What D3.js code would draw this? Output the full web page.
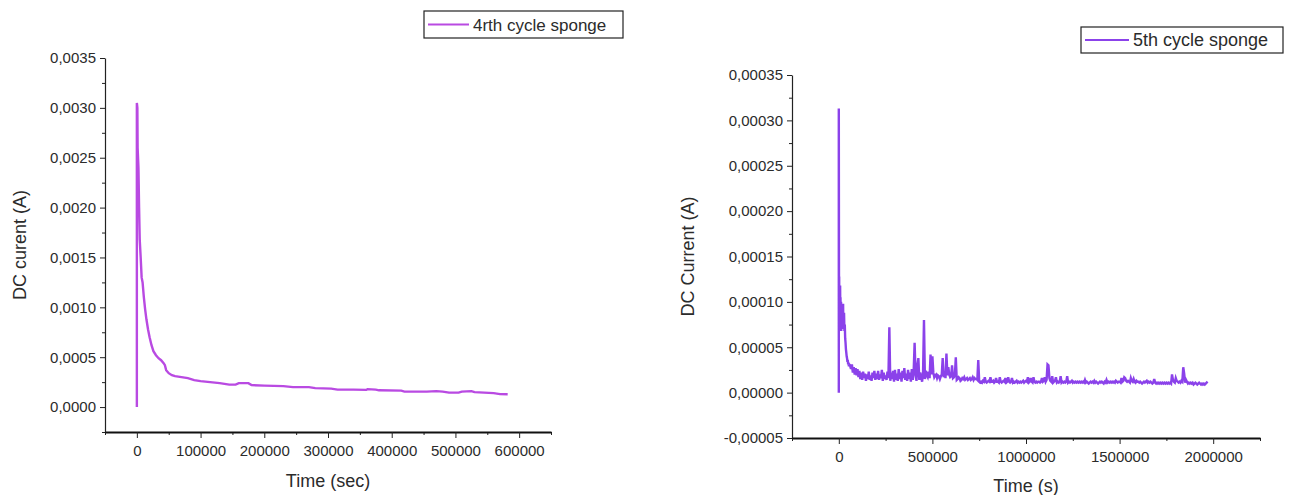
<!DOCTYPE html>
<html>
<head>
<meta charset="utf-8">
<script src="https://cdn.jsdelivr.net/npm/d3@7"></script>
<style>
  body { margin: 0; background: #fff; }
  svg { display: block; }
  text { font-family: "Liberation Sans", Arial, sans-serif; fill: #2b2b2b; }
</style>
</head>
<body>
<svg id="chart" width="1294" height="495"></svg>
<script>
// ---- 4th cycle sponge: DC current (A) vs time (sec) ----
const time4 = [0, 0, 800, 1200, 2500, 3500, 4500, 6000, 7500, 9000, 11000, 13000, 15000, 17500,
  20000, 23000, 26000, 30000, 34000, 38000, 42000, 44000, 46000, 50000, 55000, 60000, 70000,
  80000, 90000, 100000, 115000, 130000, 145000, 155000, 160000, 175000, 180000, 200000, 230000,
  245000, 270000, 280000, 305000, 315000, 340000, 360000, 362000, 375000, 380000, 415000, 420000,
  455000, 470000, 480000, 490000, 505000, 510000, 525000, 530000, 560000, 570000, 582000];
const current4 = [0, 0.00305, 0.0030, 0.0026, 0.0024, 0.0020, 0.00168, 0.0015, 0.0013, 0.00125,
  0.0011, 0.00098, 0.00088, 0.00078, 0.0007, 0.00062, 0.00056, 0.00052, 0.00049, 0.00047, 0.00044,
  0.00042, 0.00037, 0.00034, 0.00032, 0.00031, 0.0003, 0.00029, 0.00027, 0.00026, 0.00025, 0.00024,
  0.000225, 0.000225, 0.00024, 0.00024, 0.00022, 0.000215, 0.00021, 0.0002, 0.0002, 0.00019,
  0.000185, 0.000175, 0.000175, 0.000172, 0.00018, 0.000175, 0.000168, 0.000165, 0.000155,
  0.000155, 0.00016, 0.000155, 0.000145, 0.000145, 0.000155, 0.00016, 0.00015, 0.00014, 0.00013,
  0.000128];
const xTicks4 = [0, 100000, 200000, 300000, 400000, 500000, 600000];
const xMinor4 = [-50000, 50000, 150000, 250000, 350000, 450000, 550000, 650000];
const yTicks4 = [0, 0.0005, 0.001, 0.0015, 0.002, 0.0025, 0.003, 0.0035];
const yMinor4 = [-0.00025, 0.00025, 0.00075, 0.00125, 0.00175, 0.00225, 0.00275, 0.00325];

// ---- 5th cycle sponge: DC current (A) vs time (s) ----
// first minutes recorded densely (time in s, current in µA)
const time5Head = [0, 0, 1000, 2000, 3000, 4000, 5000, 6000, 7000, 8000, 9000, 10000, 11000, 12000,
  13000, 14000, 15000, 16000, 17000, 18000, 19000, 20000, 21000, 22000, 23000, 24000, 25000, 26000,
  28000, 30000, 32000, 34000, 36000, 38000, 40000, 42000, 44000, 46000, 48000, 50000, 52000, 54000,
  56000];
const current5Head_uA = [0, 313, 120, 128, 75, 110, 98, 70, 118, 85, 105, 72, 98, 100, 68, 96, 80,
  98, 70, 95, 97, 72, 92, 78, 98, 70, 85, 72, 88, 68, 75, 60, 55, 48, 44, 40, 38, 34, 36, 31, 33,
  29, 31];
// then one reading every 5000 s from 60000 s onward (current in µA)
const sampleStart5 = 60000;
const sampleStep5 = 5000;
const current5_uA = [
  30, 26, 31, 22, 28, 20, 27, 19,
  26, 17, 24, 15, 22, 14, 23, 16, 21, 13, 20, 15, 23, 14, 19, 13, 22, 16, 24, 14,
  21, 15, 24, 14, 20, 16, 25, 13, 22, 15, 19, 14, 23, 16, 72, 13, 22, 15, 24, 12,
  25, 14, 21, 13, 26, 15, 22, 12, 24, 16, 27, 14, 21, 13, 25, 15, 22, 12, 26, 14,
  24, 55, 20, 13, 30, 38, 14, 22, 18, 12, 21, 80, 15, 24, 19, 17, 23, 16, 42, 20,
  40, 22, 17, 19, 20, 16, 19, 18, 15, 18, 20, 38, 17, 21, 16, 43, 19, 28, 20, 17,
  18, 30, 16, 17, 19, 39, 14, 15, 17, 16, 13, 14, 16, 15, 17, 14, 15, 16, 14, 15,
  16, 14, 15, 17, 14, 16, 15, 15, 14, 36, 12, 11, 12, 11, 13, 12, 17, 12, 11, 12,
  13, 12, 17, 12, 12, 13, 11, 12, 16, 12, 12, 11, 17, 12, 11, 12, 13, 12, 16, 11,
  12, 17, 12, 11, 12, 16, 11, 12, 11, 12, 13, 11, 12, 11, 12, 11, 12, 13, 11, 12,
  13, 12, 17, 11, 12, 16, 12, 11, 17, 12, 11, 12, 11, 12, 12, 11, 12, 16, 12, 13,
  17, 12, 14, 31, 30, 16, 13, 12, 18, 11, 12, 13, 17, 11, 12, 11, 12, 18, 11, 12,
  11, 12, 11, 12, 18, 11, 12, 11, 12, 13, 11, 12, 11, 12, 11, 12, 11, 12, 11, 12,
  11, 12, 11, 14, 11, 12, 11, 10, 11, 12, 11, 12, 11, 13, 11, 12, 11, 10, 11, 12,
  11, 12, 11, 10, 12, 11, 14, 11, 12, 11, 12, 11, 12, 11, 12, 11, 13, 12, 11, 12,
  12, 11, 16, 12, 13, 17, 16, 13, 12, 13, 12, 11, 16, 13, 12, 15, 12, 11, 13, 12,
  12, 11, 12, 11, 10, 11, 12, 11, 12, 13, 11, 12, 11, 12, 11, 10, 11, 15, 11, 10,
  11, 10, 11, 10, 11, 10, 11, 10, 11, 10, 11, 10, 11, 10, 11, 10, 20, 14, 12, 11,
  16, 13, 12, 11, 12, 11, 13, 12, 28, 21, 11, 14, 12, 10, 11, 10, 11, 10, 11, 9,
  10, 11, 10, 9, 10, 11, 10, 9, 10, 9, 10, 9, 10, 11, 12
];
const xTicks5 = [0, 500000, 1000000, 1500000, 2000000];
const xMinor5 = [-250000, 250000, 750000, 1250000, 1750000, 2250000];
const yTicks5 = [-0.00005, 0, 0.00005, 0.0001, 0.00015, 0.0002, 0.00025, 0.0003, 0.00035];
const yMinor5 = [-0.000025, 0.000025, 0.000075, 0.000125, 0.000175, 0.000225, 0.000275, 0.000325];

// ---- build point lists ----
const uA = 1e-6;
const series4 = time4.map((t, i) => [t, current4[i]]);
const series5 = time5Head.map((t, i) => [t, current5Head_uA[i] * uA])
  .concat(current5_uA.map((v, i) => [sampleStart5 + i * sampleStep5, v * uA]));

const locale = d3.formatLocale({ decimal: ",", thousands: "", grouping: [3], currency: ["", ""], minus: "-" });

const svg = d3.select("#chart");

function drawPanel(o) {
  const x = d3.scaleLinear().domain(o.xDomain).range(o.xRange);
  const y = d3.scaleLinear().domain(o.yDomain).range(o.yRange);
  const g = svg.append("g");

  // minor ticks
  g.append("g").attr("transform", `translate(0,${o.yRange[0]})`)
    .call(d3.axisBottom(x).tickValues(o.xMinor).tickSize(3).tickSizeOuter(0).tickFormat(""))
    .call(a => a.select(".domain").remove())
    .selectAll("line").attr("stroke", "#222");
  g.append("g").attr("transform", `translate(${o.xRange[0]},0)`)
    .call(d3.axisLeft(y).tickValues(o.yMinor).tickSize(3).tickSizeOuter(0).tickFormat(""))
    .call(a => a.select(".domain").remove())
    .selectAll("line").attr("stroke", "#222");

  // y axis
  const ya = g.append("g").attr("transform", `translate(${o.xRange[0]},0)`)
    .call(d3.axisLeft(y).tickValues(o.yTicks).tickSize(5).tickSizeOuter(0).tickPadding(4)
      .tickFormat(locale.format(o.yFmt)));
  ya.select(".domain").attr("stroke", "#222").attr("stroke-width", 1.2);
  ya.selectAll(".tick line").attr("stroke", "#222");
  ya.selectAll("text").attr("font-size", 15).attr("font-family", null).attr("fill", "#2b2b2b");

  // x axis
  const xa = g.append("g").attr("transform", `translate(0,${o.yRange[0]})`)
    .call(d3.axisBottom(x).tickValues(o.xTicks).tickSize(6).tickSizeOuter(0).tickPadding(7)
      .tickFormat(locale.format("d")));
  xa.select(".domain").attr("stroke", "#111").attr("stroke-width", 2.2);
  xa.selectAll(".tick line").attr("stroke", "#222");
  xa.selectAll("text").attr("font-size", 15).attr("font-family", null).attr("fill", "#2b2b2b");

  // axis titles
  g.append("text")
    .attr("x", (o.xRange[0] + o.xRange[1]) / 2).attr("y", o.xTitleY)
    .attr("text-anchor", "middle").attr("font-size", 18).text(o.xTitle);
  g.append("text")
    .attr("transform", `translate(${o.yTitleX},${(o.yRange[0] + o.yRange[1]) / 2}) rotate(-90)`)
    .attr("text-anchor", "middle").attr("font-size", 18).text(o.yTitle);

  // data line
  g.append("path")
    .datum(o.data)
    .attr("fill", "none")
    .attr("stroke", o.color)
    .attr("stroke-width", o.width)
    .attr("stroke-linejoin", "miter")
    .attr("d", d3.line().x(d => x(d[0])).y(d => y(d[1])));

  // legend
  const L = o.legend;
  g.append("rect").attr("x", L.x).attr("y", L.y).attr("width", L.w).attr("height", L.h)
    .attr("fill", "#fff").attr("stroke", "#222").attr("stroke-width", 1.2);
  g.append("line").attr("x1", L.x + 4).attr("x2", L.x + L.sample)
    .attr("y1", L.y + L.h / 2).attr("y2", L.y + L.h / 2)
    .attr("stroke", o.color).attr("stroke-width", 2);
  g.append("text").attr("x", L.x + L.sample + 4).attr("y", L.y + L.h / 2 + 6)
    .attr("font-size", L.fs).text(o.name);
}

drawPanel({
  data: series4, name: "4rth cycle sponge", color: "#b94ae2", width: 2.4,
  xDomain: [-50000, 650000], xRange: [105, 551],
  yDomain: [-0.00025, 0.0035], yRange: [432, 58],
  xTicks: xTicks4, xMinor: xMinor4, yTicks: yTicks4, yMinor: yMinor4, yFmt: ".4f",
  xTitle: "Time (sec)", xTitleY: 487, yTitle: "DC curent (A)", yTitleX: 26,
  legend: { x: 424, y: 11, w: 199, h: 27, sample: 45, fs: 17 }
});

drawPanel({
  data: series5, name: "5th cycle sponge", color: "#8b42ea", width: 2.4,
  xDomain: [-250000, 2250000], xRange: [792, 1260],
  yDomain: [-0.00005, 0.00035], yRange: [438, 75],
  xTicks: xTicks5, xMinor: xMinor5, yTicks: yTicks5, yMinor: yMinor5, yFmt: ".5f",
  xTitle: "Time (s)", xTitleY: 492, yTitle: "DC Current (A)", yTitleX: 694,
  legend: { x: 1081, y: 27, w: 202, h: 26, sample: 48, fs: 18 }
});
</script>
</body>
</html>
